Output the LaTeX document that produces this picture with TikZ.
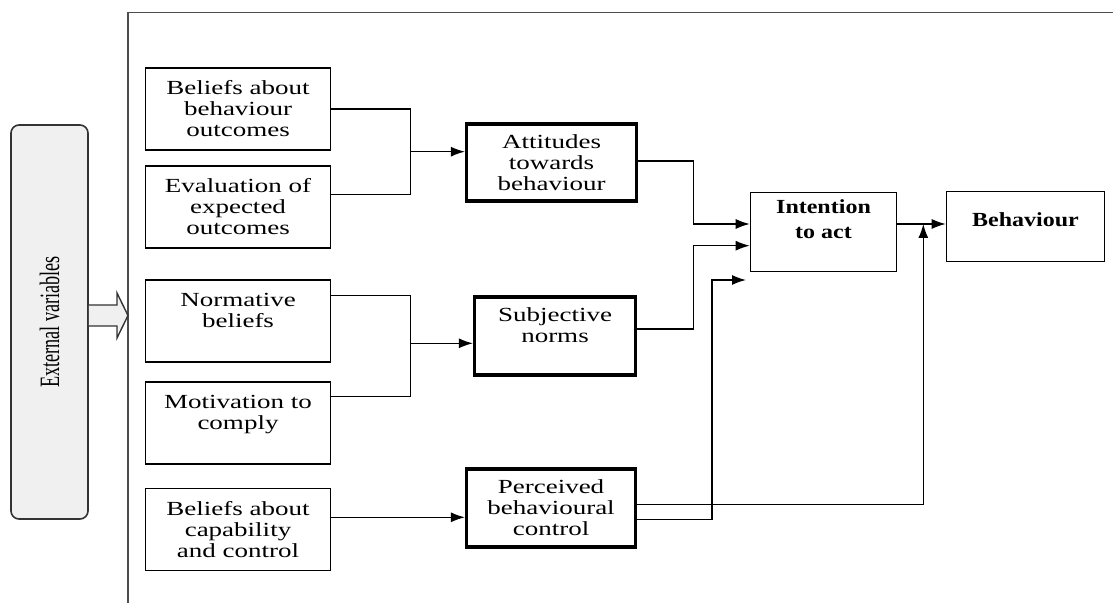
\documentclass[tikz,border=0pt]{standalone}
\usepackage{fontspec}
\setmainfont{Liberation Serif}[FakeStretch=1.35]
\newfontfamily\headfont{Liberation Serif}[FakeStretch=1.2]
\newfontfamily\sidefont{Liberation Serif}[FakeStretch=0.65]
\usepackage{tikz}
\usetikzlibrary{arrows.meta, calc}

\begin{document}
\begin{tikzpicture}[
    x=0.5pt, y=-0.5pt,
    font=\fontsize{10}{10.5}\selectfont,
    box/.style={draw, rectangle, line width=0.8pt, minimum width=92.5pt, minimum height=41pt, align=center, inner sep=1pt},
    keybox/.style={box, line width=1.6pt},
    headbox/.style={box, font=\headfont\bfseries\fontsize{10}{12.5}\selectfont},
    arrow/.style={-{Latex[length=7pt,width=5pt]}, line width=0.65pt},
    link/.style={line width=0.65pt}
]
\useasboundingbox (0,0) rectangle (1113,603);

% outer frame
\draw[black!70, line width=0.8pt] (1113,12.7) -| (128,603);

% external variables
\node[draw=black!80, line width=0.8pt, fill=gray!12, rounded corners=4pt, rotate=90, minimum width=197pt, minimum height=38.5pt, font=\sidefont\fontsize{14}{14}\selectfont] (ext) at (49.5,322) {External variables};
\draw[draw=black!80, fill=gray!12, line width=0.7pt] (ext.south |- 0,305) -- (117,305) -- (117,293) -- (128,315.5) -- (117,338) -- (117,326) -- (ext.south |- 0,326);

% beliefs
\node[box] (b1) at (238,109) {Beliefs about\\behaviour\\outcomes};
\node[box] (b2) at (238,207) {Evaluation of\\expected\\outcomes};
\node[box] (b3) at (238,321) {Normative\\beliefs\\\mbox{}};
\node[box] (b4) at (238,423) {Motivation to\\comply\\\mbox{}};
\node[box] (b5) at (238,529.5) {Beliefs about\\capability\\and control};

% determinants
\node[keybox, minimum width=85pt, minimum height=38.5pt] (att) at (551.5,162.5) {Attitudes\\towards\\behaviour};
\node[keybox, minimum width=80.5pt, minimum height=39pt] (sub) at (555,336) {Subjective\\norms\\\mbox{}};
\node[keybox, minimum width=84.5pt, minimum height=39pt] (per) at (551,508) {Perceived\\behavioural\\control};

% intention and behaviour
\node[headbox, minimum width=73pt, minimum height=39.5pt] (int) at (823.5,232) {Intention\\to act\\\mbox{}};
\node[headbox, minimum width=79pt, minimum height=35pt, text depth=7pt] (beh) at (1025.5,226.5) {Behaviour};

\coordinate (j1) at (410.7,151.7);
\coordinate (j2) at (410.7,343.3);
\coordinate (j3) at (693.3,224);
\coordinate (j4) at (693.3,245.7);
\coordinate (j5) at (712,280);
\coordinate (j6) at (746,280);
\coordinate (j7) at (923.3,224);

\draw[link] (b1.east) -| (j1);
\draw[link] ([yshift=6.4pt]b2.east) -| (j1);
\draw[arrow] (j1) -- (j1 -| att.west);
\draw[link] ([yshift=12.6pt]b3.east) -| (j2);
\draw[link] ([yshift=13.1pt]b4.east) -| (j2);
\draw[arrow] (j2) -- (j2 -| sub.west);
\draw[arrow] ([yshift=6.1pt]b5.east) -- ([yshift=6.1pt]b5.east -| per.west);

\draw[arrow] ([yshift=0.7pt]att.east) -| (j3) -- (j3 -| int.west);
\draw[arrow] ([yshift=3.5pt]sub.east) -| (j4) -- (j4 -| int.west);
\draw[arrow] ([yshift=-5.6pt]per.east) -| (j5) -- (j6);
\draw[arrow] ([yshift=1.9pt]per.east) -| (j7);
\draw[arrow] ([yshift=4pt]int.east) -- ([yshift=4pt]int.east -| beh.west);
\end{tikzpicture}
\end{document}
